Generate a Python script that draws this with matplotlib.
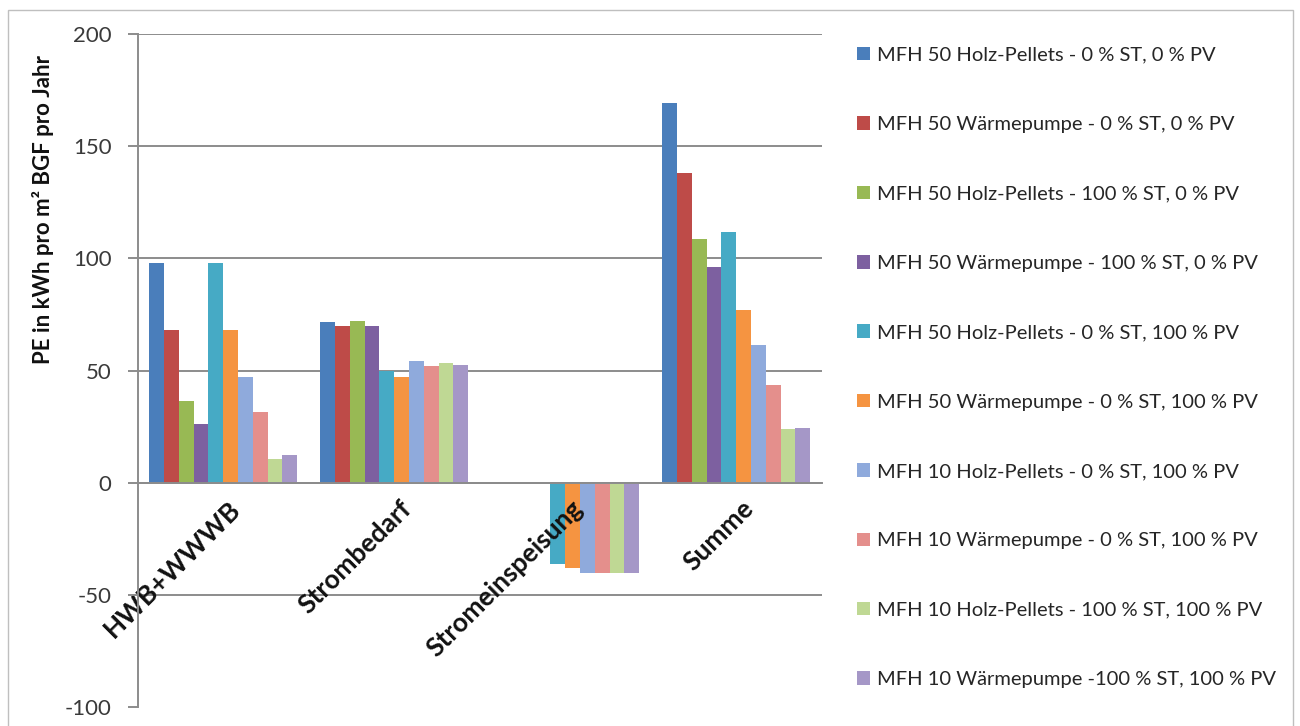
import matplotlib
matplotlib.use("Agg")
import matplotlib.pyplot as plt
import matplotlib.transforms as mtransforms
import numpy as np
from matplotlib.patches import Rectangle

categories = ["HWB+WWWB", "Strombedarf", "Stromeinspeisung", "Summe"]

series_names = [
    "MFH 50 Holz-Pellets - 0 % ST, 0 % PV",
    "MFH 50 Wärmepumpe - 0 % ST, 0 % PV",
    "MFH 50 Holz-Pellets - 100 % ST, 0 % PV",
    "MFH 50 Wärmepumpe - 100 % ST, 0 % PV",
    "MFH 50 Holz-Pellets - 0 % ST, 100 % PV",
    "MFH 50 Wärmepumpe - 0 % ST, 100 % PV",
    "MFH 10 Holz-Pellets - 0 % ST, 100 % PV",
    "MFH 10 Wärmepumpe - 0 % ST, 100 % PV",
    "MFH 10 Holz-Pellets - 100 % ST, 100 % PV",
    "MFH 10 Wärmepumpe -100 % ST, 100 % PV",
]

# values per category: HWB+WWWB, Strombedarf, Stromeinspeisung, Summe
mfh50_pellets_0st_0pv = [98.0, 71.5, 0.0, 169.5]
mfh50_wp_0st_0pv = [68.0, 70.0, 0.0, 138.0]
mfh50_pellets_100st_0pv = [36.5, 72.0, 0.0, 108.5]
mfh50_wp_100st_0pv = [26.3, 70.0, 0.0, 96.3]
mfh50_pellets_0st_100pv = [98.0, 49.7, -36.0, 111.7]
mfh50_wp_0st_100pv = [68.0, 47.0, -38.0, 77.0]
mfh10_pellets_0st_100pv = [47.0, 54.2, -40.0, 61.2]
mfh10_wp_0st_100pv = [31.6, 52.2, -40.0, 43.8]
mfh10_pellets_100st_100pv = [10.5, 53.4, -40.0, 23.9]
mfh10_wp_100st_100pv = [12.3, 52.3, -40.0, 24.6]

series_values = [
    mfh50_pellets_0st_0pv, mfh50_wp_0st_0pv, mfh50_pellets_100st_0pv,
    mfh50_wp_100st_0pv, mfh50_pellets_0st_100pv, mfh50_wp_0st_100pv,
    mfh10_pellets_0st_100pv, mfh10_wp_0st_100pv, mfh10_pellets_100st_100pv,
    mfh10_wp_100st_100pv,
]

colors = ["#4A7EBB", "#BE4B48", "#98B954", "#7D60A0", "#46AAC5",
          "#F59441", "#8FAADC", "#E48F8C", "#BFD894", "#A597C7"]

y_ticks = [-100, -50, 0, 50, 100, 150, 200]

plt.rcParams["font.family"] = ["Lato", "DejaVu Sans"]
plt.rcParams["axes.unicode_minus"] = False

fig = plt.figure(figsize=(13, 7.26), dpi=100)
ax = fig.add_axes([0.106, 0.026, 0.526, 0.927])

# horizontal gridlines behind the bars
for t in y_ticks[1:]:
    ax.axhline(t, color="#8C8C8C", linewidth=1.4, zorder=0)

n = len(series_values)
group_w = 0.866
bar_w = group_w / n
x = np.arange(len(categories))
for i, (vals, col, name) in enumerate(zip(series_values, colors, series_names)):
    offs = -group_w / 2 + bar_w * (i + 0.5)
    ax.bar(x + offs, vals, width=bar_w, color=col, label=name, zorder=1,
           edgecolor="none")

ax.set_xlim(-0.5, len(categories) - 0.5)
ax.set_ylim(y_ticks[0], y_ticks[-1])
ax.set_yticks(y_ticks)

for side in ("top", "right"):
    ax.spines[side].set_visible(False)
ax.spines["left"].set_color("#8C8C8C")
ax.spines["left"].set_linewidth(1.4)
ax.spines["bottom"].set_position(("data", 0))
ax.spines["bottom"].set_color("#8C8C8C")
ax.spines["bottom"].set_linewidth(1.4)

ax.tick_params(axis="y", length=7, width=1.4, color="#8C8C8C",
               labelsize=16, labelcolor="#3A3A3A", pad=12)
ax.tick_params(axis="x", length=0, pad=4)
ax.set_xticks(x)
ax.set_xticklabels(categories, rotation=45, ha="right", va="top",
                   fontsize=19, fontweight="bold", color="#111111",
                   rotation_mode="anchor")
shift = mtransforms.ScaledTranslation(5 / 100, -8 / 100, fig.dpi_scale_trans)
for lbl in ax.get_xticklabels():
    lbl.set_transform(lbl.get_transform() + shift)
    lbl.set_zorder(5)

ax.set_ylabel("PE in kWh pro m² BGF pro Jahr", fontsize=16,
              fontweight="bold", color="#111111")
ax.yaxis.set_label_coords(-0.122, 0.74)

leg = fig.legend(loc="upper left", bbox_to_anchor=(0.645, 0.9605),
                 frameon=False, fontsize=14.5, handlelength=0.65,
                 handleheight=0.65, handletextpad=0.35, labelspacing=2.6,
                 labelcolor="#262626")

# outer chart frame
fig.patches.append(Rectangle((8 / 1300, -0.01), 1285 / 1300, 1 - 10 / 726 + 0.01,
                             transform=fig.transFigure, fill=False,
                             edgecolor="#BFBFBF", linewidth=1.0))

fig.savefig("out.png", dpi=100)
